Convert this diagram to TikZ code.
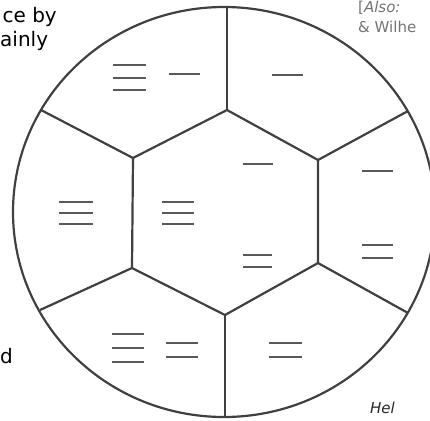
\documentclass[tikz,border=0pt]{standalone}
\usepackage{fontspec}
\setmainfont{DejaVu Sans}

\begin{document}
\begin{tikzpicture}[x=1pt,y=-1pt,
  edge/.style={draw=black!75, line width=2.2pt},
  yaoline/.style={draw=black!65, line width=2pt},
  pagetext/.style={inner sep=0pt, font=\fontsize{20}{24}\selectfont},
  sidetext/.style={inner sep=0pt, text=black!55, font=\fontsize{15}{18}\selectfont}]
\useasboundingbox (0,0) rectangle (430,420);
\clip (0,0) rectangle (430,420);

% hexagon corners
\coordinate (h1) at (227,110);
\coordinate (h2) at (318,160);
\coordinate (h3) at (318,263);
\coordinate (h4) at (225,315);
\coordinate (h5) at (132,268);
\coordinate (h6) at (133,158);

% where the spokes meet the rim
\coordinate (r1) at (227,8);
\coordinate (r2) at (408,111);
\coordinate (r3) at (408,313);
\coordinate (r4) at (225,417);
\coordinate (r5) at (40,310);
\coordinate (r6) at (41,110);

\draw[edge] (224,212) ellipse [x radius=211pt, y radius=205pt];
\draw[edge] (h1) -- (h2) -- (h3) -- (h4) -- (h5) -- (h6) -- cycle;
\foreach \i in {1,...,6}
  \draw[edge] (h\i) -- (r\i);

% top-left sector
\foreach \y in {65,78,90}
  \draw[yaoline] (113,\y) -- (146,\y);
\draw[yaoline] (169,74) -- (200,74);
% top-right sector
\draw[yaoline] (272,75) -- (303,75);
% right sector
\draw[yaoline] (362,171) -- (393,171);
\foreach \y in {245,258}
  \draw[yaoline] (362,\y) -- (393,\y);
% bottom-right sector
\foreach \y in {343,357}
  \draw[yaoline] (269,\y) -- (302,\y);
% bottom-left sector
\foreach \y in {334,348,362}
  \draw[yaoline] (112,\y) -- (144,\y);
\foreach \y in {343,357}
  \draw[yaoline] (166,\y) -- (198,\y);
% left sector
\foreach \y in {202,213,224}
  \draw[yaoline] (59,\y) -- (93,\y);
% middle
\foreach \y in {202,213,224}
  \draw[yaoline] (162,\y) -- (194,\y);
\draw[yaoline] (243,164) -- (273,164);
\foreach \y in {255,267}
  \draw[yaoline] (243,\y) -- (272,\y);

% bits of the page text round the picture
\node[pagetext, anchor=base east] (txa) at (57,23) {ce by};
\node[pagetext, anchor=base west] (txb) at (0,47) {ainly};
\node[pagetext, anchor=base west] (txc) at (0,363) {d};
\node[sidetext, anchor=base west] (txd) at (358,13) {[\textit{Also:}};
\node[sidetext, anchor=base west] (txe) at (358,33) {\& Wilhe};
\node[sidetext, text=black!85, anchor=base west] (txf) at (370,413) {\textit{Hel}};
\end{tikzpicture}
\end{document}
